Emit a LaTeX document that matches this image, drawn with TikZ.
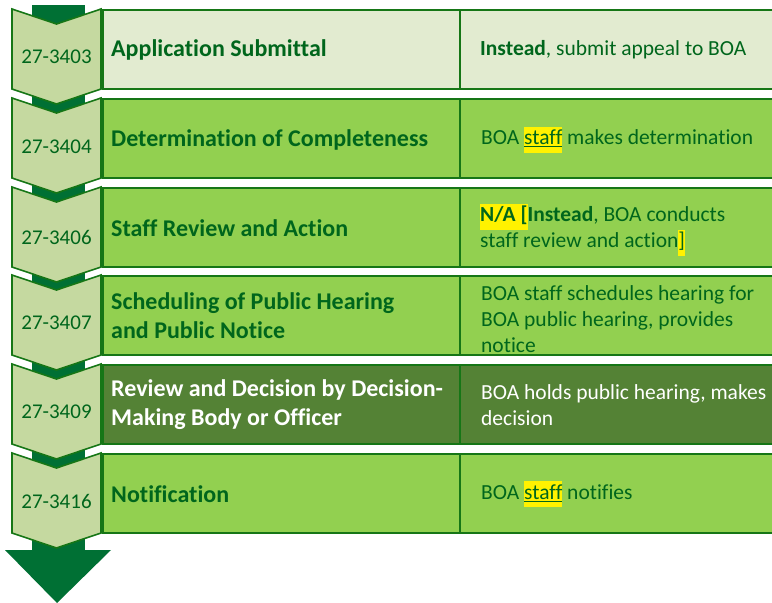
\documentclass[tikz,border=0pt]{standalone}
\usepackage{fontspec}
\setmainfont{Carlito}[Ligatures=NoCommon]
\definecolor{arrowdk}{RGB}{0,112,52}
\definecolor{chevfill}{RGB}{197,217,160}
\definecolor{lineg}{RGB}{22,118,22}
\definecolor{paleg}{RGB}{226,235,208}
\definecolor{midg}{RGB}{146,208,80}
\definecolor{darkg}{RGB}{84,130,53}
\definecolor{txtg}{RGB}{0,102,28}
\newcommand\hlt[1]{{\setlength{\fboxsep}{0pt}\colorbox{yellow}{\strut#1}}}
\newcommand\chevshape[2]{%
  \draw[chev] (12,#1) -- (56.5,#1+15) -- (101,#1) -- (101,#2) -- (56.5,#2+15) -- (12,#2) -- cycle;}
\begin{document}
\begin{tikzpicture}[x=1pt,y=-1pt,
  chev/.style={fill=chevfill, draw=lineg, line width=1.6pt, line join=miter},
  rowbox/.style={draw=lineg, line width=1.8pt},
  num/.style={font=\fontsize{21}{25.6}\selectfont, text=txtg, inner sep=0pt},
  ttl/.style={font=\fontsize{24}{28.8}\selectfont\bfseries, text=txtg, anchor=west, align=left, inner sep=0pt},
  desc/.style={font=\fontsize{21.5}{26}\selectfont, text=txtg, anchor=west, align=left, inner sep=0pt},
  wht/.style={text=white}]
\useasboundingbox (0,0) rectangle (772,603);
\clip (0,0) rectangle (772,603);
% background arrow
\fill[arrowdk] (32,5) rectangle (85,551);
\fill[arrowdk] (5,550) -- (111,550) -- (57,603) -- cycle;
% chevrons
\chevshape{9}{89}
\chevshape{98}{178}
\chevshape{187}{267}
\chevshape{275}{355}
\chevshape{364}{444}
\chevshape{453}{533}
% row boxes
\draw[rowbox, fill=paleg] (103,10) rectangle (460,89);
\draw[rowbox, fill=paleg] (460,10) rectangle (790,89);
\draw[rowbox, fill=midg] (103,99) rectangle (460,178);
\draw[rowbox, fill=midg] (460,99) rectangle (790,178);
\draw[rowbox, fill=midg] (103,188) rectangle (460,267);
\draw[rowbox, fill=midg] (460,188) rectangle (790,267);
\draw[rowbox, fill=midg] (103,276) rectangle (460,355);
\draw[rowbox, fill=midg] (460,276) rectangle (790,355);
\draw[rowbox, fill=darkg] (103,365) rectangle (460,444);
\draw[rowbox, fill=darkg] (460,365) rectangle (790,444);
\draw[rowbox, fill=midg] (103,454) rectangle (460,533);
\draw[rowbox, fill=midg] (460,454) rectangle (790,533);
% numbers
\node[num] (n1) at (56.5,57) {27-3403};
\node[num] (n2) at (56.5,147) {27-3404};
\node[num] (n3) at (56.5,237.5) {27-3406};
\node[num] (n4) at (56.5,323) {27-3407};
\node[num] (n5) at (56.5,412) {27-3409};
\node[num] (n6) at (56.5,501) {27-3416};
% titles
\node[ttl] (t1) at (111,50) {Application Submittal};
\node[ttl] (t2) at (111,139.5) {Determination of Completeness};
\node[ttl] (t3) at (111,228.5) {Staff Review and Action};
\node[ttl] (t4) at (111,316) {Scheduling of Public Hearing\\and Public Notice};
\node[ttl, wht] (t5) at (111,405) {Review and Decision by Decision-\\Making Body or Officer};
\node[ttl] (t6) at (111,494) {Notification};
% descriptions
\node[desc] (d1) at (480,50) {\textbf{Instead}, submit appeal to BOA};
\node[desc] (d2) at (481,139.5) {BOA \hlt{\underline{staff}} makes determination};
\node[desc] (d3) at (480,229.5) {\hlt{\textbf{N/A [}}\textbf{Instead}, BOA conducts\\staff review and action\hlt{]}};
\node[desc] (d4) at (481,319) {BOA staff schedules hearing for\\BOA public hearing, provides\\notice};
\node[desc, wht] (d5) at (481,405) {BOA holds public hearing, makes\\decision};
\node[desc] (d6) at (481,494) {BOA \hlt{\underline{staff}} notifies};
\end{tikzpicture}
\end{document}
